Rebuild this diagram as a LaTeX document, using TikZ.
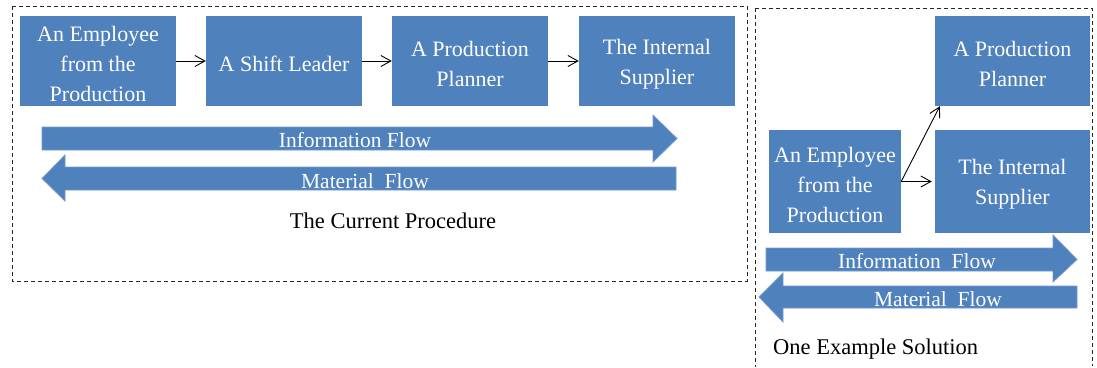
\documentclass[tikz,border=0pt]{standalone}
\usepackage{fontspec}
\setmainfont{Liberation Serif}
\usetikzlibrary{arrows.meta}
\definecolor{boxblue}{HTML}{4F81BD}
\definecolor{edgeblue}{HTML}{739BCC}
\begin{document}
\begin{tikzpicture}[x=1pt,y=-1pt,
  stepbox/.style={fill=boxblue, inner sep=0pt},
  boxtext/.style={text=white, inner sep=0pt, align=center,
    font=\fontsize{22}{30}\selectfont},
  flowshape/.style={fill=boxblue, draw=edgeblue, line width=0.8pt},
  flowtext/.style={text=white, inner sep=0pt, font=\fontsize{21.5}{26}\selectfont},
  caption/.style={text=black, inner sep=0pt, font=\fontsize{22.5}{26}\selectfont},
  frame/.style={draw=black!85, line width=0.9pt, dash pattern=on 4pt off 3pt},
  conn/.style={draw=black, line width=0.9pt, -{Straight Barb[length=10pt,width=11pt]}}]
\useasboundingbox (0,0) rectangle (1097,367);

% dashed frames
\draw[frame] (12,6) rectangle (747,281);
\draw[frame] (755,8) -- (1092,8) -- (1092,366);
\draw[frame] (755,8) -- (755,367);

% current procedure: chain of four roles
\node[stepbox, minimum width=156pt, minimum height=90pt] (c1) at (98,61) {};
\node[stepbox, minimum width=156pt, minimum height=90pt] (c2) at (284,61) {};
\node[stepbox, minimum width=156pt, minimum height=90pt] (c3) at (470,61) {};
\node[stepbox, minimum width=156pt, minimum height=90pt] (c4) at (657,61) {};
\node[boxtext] (c1t) at ([yshift=-3pt]c1.center) {An Employee\\from the\\Production};
\node[boxtext] (c2t) at ([yshift=-3pt]c2.center) {A Shift Leader};
\node[boxtext] (c3t) at ([yshift=-3pt]c3.center) {A Production\\Planner};
\node[boxtext] (c4t) at ([yshift=-3pt]c4.center) {The Internal\\Supplier};
\draw[conn] (c1) -- (c2);
\draw[conn] (c2) -- (c3);
\draw[conn] (c3) -- (c4);

% current procedure: flows
\path[flowshape] (42,127) -- (653,127) -- (653,115) -- (677,138.5) -- (653,162) -- (653,150) -- (42,150) -- cycle;
\path[flowshape] (676,167) -- (65,167) -- (65,155) -- (42,178.5) -- (65,201) -- (65,190) -- (676,190) -- cycle;
\node[flowtext] (cinfo) at (355,140) {Information Flow};
\node[flowtext] (cmat) at (365,181) {Material\ \ Flow};
\node[caption] (ccap) at (393,221) {The Current Procedure};

% example solution: employee reports to both roles
\node[stepbox, minimum width=132pt, minimum height=103pt] (s1) at (835,181.5) {};
\node[stepbox, minimum width=155pt, minimum height=90pt] (s2) at (1012.5,61) {};
\node[stepbox, minimum width=155pt, minimum height=103pt] (s3) at (1012.5,181.5) {};
\node[boxtext] (s1t) at ([yshift=-3pt]s1.center) {An Employee\\from the\\Production};
\node[boxtext] (s2t) at ([yshift=-3pt]s2.center) {A Production\\Planner};
\node[boxtext] (s3t) at ([yshift=-3pt]s3.center) {The Internal\\Supplier};
\draw[conn] (s1.east) -- ([xshift=5pt]s2.south west);
\draw[conn, shorten >=3pt] (s1.east) -- (s3.west);

% example solution: flows
\path[flowshape] (766,248) -- (1053,248) -- (1053,235) -- (1077,259.5) -- (1053,282) -- (1053,271) -- (766,271) -- cycle;
\path[flowshape] (1077,286) -- (783,286) -- (783,273) -- (759,297) -- (783,322) -- (783,308) -- (1077,308) -- cycle;
\node[flowtext] (sinfo) at (917,261) {Information\ \ Flow};
\node[flowtext] (smat) at (938,299) {Material\ \ Flow};
\node[caption, anchor=west] (scap) at (773,349) {One Example Solution};
\end{tikzpicture}
\end{document}
